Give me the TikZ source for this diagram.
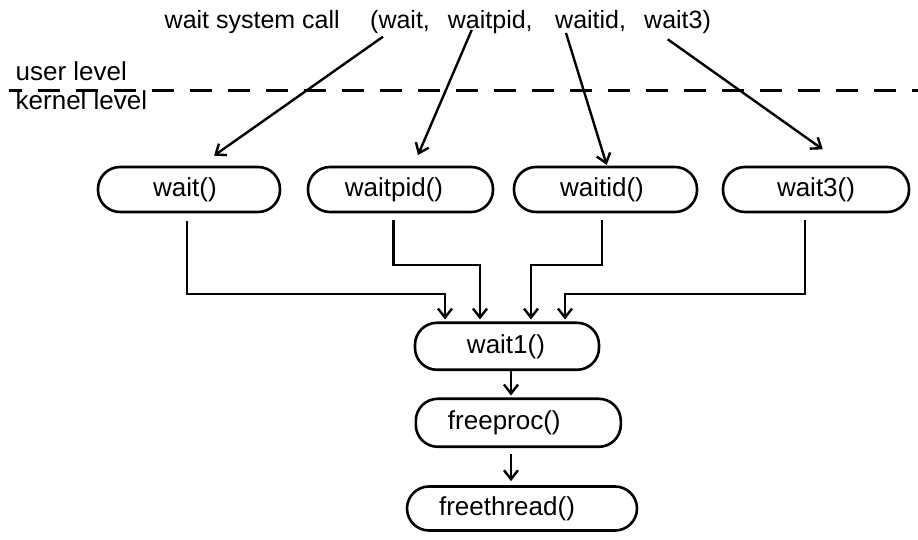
\documentclass[tikz,border=0pt]{standalone}
\usepackage{fontspec}
\setmainfont{Liberation Sans}
\usetikzlibrary{arrows.meta}
\begin{document}
\begin{tikzpicture}[x=1pt,y=1pt,
  every node/.style={font=\fontsize{26}{30}\selectfont, inner sep=0pt},
  toptext/.style={font=\fontsize{25}{30}\selectfont, anchor=base west},
  levellabel/.style={anchor=base west},
  call/.style={draw, line width=2.6pt, rounded corners=22pt, minimum height=45pt},
  flow/.style={line width=2.4pt, -{Straight Barb[length=9pt,width=14pt,line width=2.4pt]}},
  boundary/.style={line width=2.6pt, dash pattern=on 22pt off 16pt, dash phase=9.3pt}]
\useasboundingbox (0,0) rectangle (918,540);

% system call names at user level
\node[toptext] (sys)   at (164.5,511) {wait system call};
\node[toptext] (nwait) at (370,511) {(wait,};
\node[toptext] (npid)  at (447.7,511) {waitpid,};
\node[toptext] (nid)   at (555,511) {waitid,};
\node[toptext] (n3)    at (644,511) {wait3)};

% user / kernel boundary
\node[levellabel] (user)   at (15.5,459) {user level};
\node[levellabel] (kernel) at (15.5,430) {kernel level};
\coordinate (bl) at (9,449.3);
\coordinate (br) at (918,449.3);
\draw[boundary] (bl) -- (br);

% kernel entry points
\node[call, minimum width=182pt] (wait)    at (189,350.5)   {wait()\hspace*{8pt}};
\node[call, minimum width=185pt] (waitpid) at (400.5,350.5) {waitpid()\hspace*{13pt}};
\node[call, minimum width=183pt] (waitid)  at (605.5,350.5) {waitid()\hspace*{7pt}};
\node[call, minimum width=186pt] (wait3)   at (816,350.5)   {wait3()};

% common path
\node[call, minimum width=184pt, minimum height=47pt] (wait1) at (507,193.7) {wait1()\hspace*{2pt}};
\node[call, minimum width=205pt, minimum height=48pt] (freeproc) at (518.3,117.2) {freeproc()\hspace*{28pt}};
\node[call, minimum width=230pt, minimum height=44pt] (freethread) at (522,31.5) {freethread()\hspace*{30pt}};

% from the user-level names down to the kernel routines
\coordinate (s1) at (383,503.3);   \coordinate (e1) at (214,384.3);
\coordinate (s2) at (471.7,510);   \coordinate (e2) at (418,385);
\coordinate (s3) at (566,507);     \coordinate (e3) at (606.7,375);
\coordinate (s4) at (667.7,500.7); \coordinate (e4) at (822.7,390.7);
\draw[flow] (s1) -- (e1);
\draw[flow] (s2) -- (e2);
\draw[flow] (s3) -- (e3);
\draw[flow] (s4) -- (e4);

% each routine funnels into wait1()
\coordinate (busLow)  at (0,246);
\coordinate (busHigh) at (0,275);
\coordinate (d1) at ([xshift=-2.3pt]wait.south);
\coordinate (d2) at ([xshift=-7.2pt]waitpid.south);
\coordinate (d3) at ([xshift=-3.8pt]waitid.south);
\coordinate (d4) at ([xshift=-11pt]wait3.south);
\coordinate (t1) at ([xshift=-62pt]wait1.north);
\coordinate (t2) at ([xshift=-27pt]wait1.north);
\coordinate (t3) at ([xshift=24pt]wait1.north);
\coordinate (t4) at ([xshift=58pt]wait1.north);
\draw[flow, shorten <=8pt, shorten >=2pt] (d1) -- (d1 |- busLow)  -| (t1);
\draw[flow, shorten <=7pt, shorten >=2pt] (d2) -- (d2 |- busHigh) -| (t2);
\draw[flow, shorten <=7pt, shorten >=2pt] (d3) -- (d3 |- busHigh) -| (t3);
\draw[flow, shorten <=7pt, shorten >=2pt] (d4) -- (d4 |- busLow)  -| (t4);

% wait1() -> freeproc() -> freethread()
\coordinate (m1) at ([xshift=4pt]wait1.south);
\coordinate (m2) at ([xshift=-7.3pt]freeproc.south);
\draw[flow, shorten >=2pt] (m1) -- (m1 |- freeproc.north);
\draw[flow, shorten <=6pt, shorten >=4pt] (m2) -- (m2 |- freethread.north);
\end{tikzpicture}
\end{document}
